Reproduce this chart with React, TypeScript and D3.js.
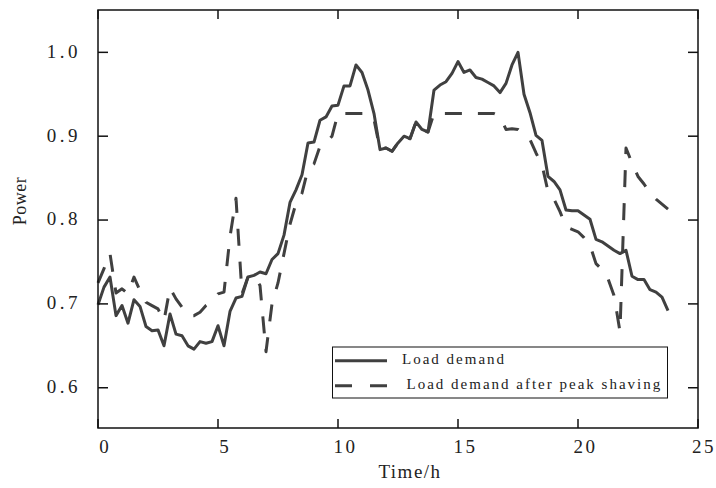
import React from "react";
import * as d3 from "d3";

const hours: number[] = Array.from({ length: 96 }, (_, i) => i * 0.25);

const loadDemand: number[] = [
  0.699, 0.720, 0.732, 0.686, 0.698, 0.677, 0.705, 0.697,
  0.673, 0.668, 0.669, 0.650, 0.688, 0.664, 0.662, 0.650,
  0.646, 0.655, 0.653, 0.655, 0.674, 0.650, 0.691, 0.707,
  0.709, 0.732, 0.734, 0.738, 0.736, 0.753, 0.760, 0.782,
  0.821, 0.836, 0.854, 0.892, 0.893, 0.919, 0.923, 0.936,
  0.937, 0.960, 0.960, 0.985, 0.976, 0.955, 0.927, 0.884,
  0.886, 0.882, 0.892, 0.900, 0.897, 0.917, 0.908, 0.905,
  0.955, 0.961, 0.965, 0.975, 0.989, 0.976, 0.979, 0.970,
  0.968, 0.964, 0.960, 0.952, 0.963, 0.985, 1.000, 0.950,
  0.928, 0.901, 0.895, 0.852, 0.846, 0.836, 0.812, 0.811,
  0.811, 0.806, 0.801, 0.777, 0.774, 0.769, 0.764, 0.760,
  0.764, 0.733, 0.729, 0.729, 0.717, 0.714, 0.708, 0.692,
];

const afterShaving: number[] = [
  0.725, 0.742, 0.760, 0.713, 0.718, 0.712, 0.732, 0.716,
  0.702, 0.698, 0.694, 0.680, 0.719, 0.706, 0.696, 0.686,
  0.686, 0.690, 0.698, 0.703, 0.712, 0.714, 0.780, 0.826,
  0.712, 0.732, 0.734, 0.722, 0.643, 0.700, 0.725, 0.760,
  0.795, 0.820, 0.832, 0.861, 0.867, 0.888, 0.892, 0.900,
  0.927, 0.927, 0.927, 0.927, 0.927, 0.927, 0.920, 0.884,
  0.886, 0.882, 0.892, 0.900, 0.897, 0.917, 0.908, 0.905,
  0.927, 0.927, 0.927, 0.927, 0.927, 0.927, 0.927, 0.927,
  0.927, 0.927, 0.927, 0.924, 0.908, 0.909, 0.908, 0.902,
  0.896, 0.880, 0.866, 0.834, 0.825, 0.810, 0.792, 0.789,
  0.786, 0.779, 0.770, 0.748, 0.741, 0.730, 0.710, 0.667,
  0.886, 0.868, 0.852, 0.843, 0.832, 0.825, 0.819, 0.813,
];

const xTicks: number[] = [0, 5, 10, 15, 20, 25];
const yTicks: number[] = [0.6, 0.7, 0.8, 0.9, 1.0];
const legendLabels: string[] = ["Load demand", "Load demand after peak shaving"];

const W = 716;
const H = 488;
const L = 98;
const R = 698;
const T = 10;
const B = 428;
const LINE = "#404040";
const FONT = "'Liberation Serif', 'DejaVu Serif', serif";

export default function App() {
  const x = d3.scaleLinear().domain([0, 25]).range([L, R]);
  const y = d3.scaleLinear().domain([0.552, 1.0505]).range([B, T]);

  const line = d3
    .line<number>()
    .x((_, i) => x(hours[i]))
    .y((d) => y(d));

  const solidPath = line(loadDemand) || "";
  const dashPath = line(afterShaving) || "";

  return (
    <svg
      width={W}
      height={H}
      style={{ position: "absolute", left: 0, top: 0, background: "#fff" }}
    >
      <rect x={0} y={0} width={W} height={H} fill="#fff" />
      {/* data lines */}
      <path d={dashPath} fill="none" stroke={LINE} strokeWidth={3} strokeDasharray="17 16" strokeLinejoin="round" />
      <path d={solidPath} fill="none" stroke={LINE} strokeWidth={3} strokeLinejoin="round" />

      {/* axes box */}
      <rect x={L} y={T} width={R - L} height={B - T} fill="none" stroke="#111" strokeWidth={1.5} />

      {/* x ticks */}
      {xTicks.map((t) => (
        <g key={"xt" + t}>
          <line x1={x(t)} x2={x(t)} y1={B} y2={B - 9} stroke="#111" strokeWidth={1.5} />
          <line x1={x(t)} x2={x(t)} y1={T} y2={T + 9} stroke="#111" strokeWidth={1.5} />
          <text
            x={x(t) + 6 + (t >= 10 && t < 25 ? 1.5 : 0)}
            y={449}
            textAnchor="middle"
            dominantBaseline="middle"
            fontFamily={FONT}
            fontSize={19}
            letterSpacing={t >= 10 ? 2.5 : 0}
            fill="#222"
          >
            {t}
          </text>
        </g>
      ))}

      {/* y ticks */}
      {yTicks.map((t) => (
        <g key={"yt" + t}>
          <line x1={L} x2={L + 10} y1={y(t)} y2={y(t)} stroke="#111" strokeWidth={1.5} />
          <line x1={R} x2={R - 10} y1={y(t)} y2={y(t)} stroke="#111" strokeWidth={1.5} />
          <text
            x={81}
            y={y(t) + 1}
            textAnchor="end"
            dominantBaseline="middle"
            fontFamily={FONT}
            fontSize={19}
            letterSpacing={3.5}
            fill="#222"
          >
            {t.toFixed(1)}
          </text>
        </g>
      ))}

      {/* axis labels */}
      <text
        x={410}
        y={474}
        textAnchor="middle"
        dominantBaseline="middle"
        fontFamily={FONT}
        fontSize={19}
        letterSpacing={1.5}
        fill="#222"
      >
        Time/h
      </text>
      <text
        transform="translate(22,201) rotate(-90)"
        textAnchor="middle"
        dominantBaseline="middle"
        fontFamily={FONT}
        fontSize={18}
        letterSpacing={0.5}
        fill="#222"
      >
        Power
      </text>

      {/* legend */}
      <rect x={332.5} y={347} width={335} height={51} fill="#fff" stroke="#111" strokeWidth={1} />
      <line x1={335} x2={387} y1={360.7} y2={360.7} stroke={LINE} strokeWidth={3} />
      <line x1={335} x2={387} y1={385.7} y2={385.7} stroke={LINE} strokeWidth={3} strokeDasharray="17 18" />
      <text
        x={402}
        y={361}
        dominantBaseline="middle"
        fontFamily={FONT}
        fontSize={15}
        letterSpacing={2}
        fill="#222"
      >
        {legendLabels[0]}
      </text>
      <text
        x={406.5}
        y={386}
        dominantBaseline="middle"
        fontFamily={FONT}
        fontSize={15}
        letterSpacing={2}
        fill="#222"
      >
        {legendLabels[1]}
      </text>
    </svg>
  );
}
